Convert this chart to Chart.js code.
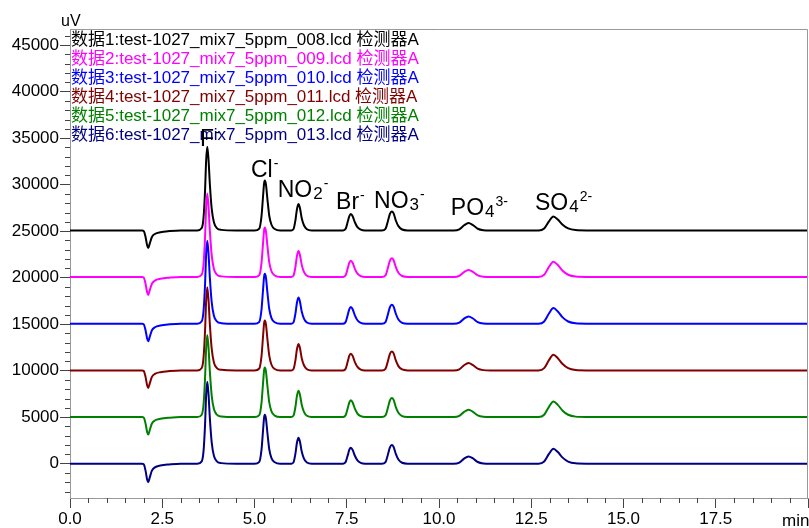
<!DOCTYPE html>
<html>
<head>
<meta charset="utf-8">
<script src="https://cdn.jsdelivr.net/npm/chart.js@4.4.0/dist/chart.umd.min.js"></script>
<style>
html, body { margin: 0; padding: 0; background: #fff; }
#wrap { width: 809px; height: 528px; }
</style>
</head>
<body>
<div id="wrap"><canvas id="chart" width="809" height="528"></canvas></div>
<script>
// Retention time samples (min), shared by all six runs
const times = [
  0.0,
  1.95, 2.00, 2.05, 2.09, 2.12, 2.16, 2.22, 2.30, 2.45, 2.70, 3.00,
  3.45, 3.57, 3.62, 3.66, 3.69, 3.72, 3.755, 3.79, 3.84, 3.90, 3.98, 4.10, 4.50,
  5.00, 5.13, 5.19, 5.23, 5.26, 5.28, 5.31, 5.35, 5.40, 5.46, 5.55, 5.70,
  6.00, 6.06, 6.11, 6.15, 6.19, 6.23, 6.28, 6.34, 6.42, 6.55,
  7.40, 7.47, 7.53, 7.57, 7.61, 7.66, 7.72, 7.79, 7.88, 8.00,
  8.45, 8.55, 8.62, 8.67, 8.72, 8.77, 8.83, 8.90, 9.00, 9.15,
  10.40, 10.55, 10.68, 10.80, 10.92, 11.05, 11.20, 11.40,
  12.70, 12.85, 12.98, 13.10, 13.22, 13.35, 13.50, 13.70, 14.00,
  20.0
];

// Detector signal (uV) of each run, before the display offset
const run008 = [
  0,
  0, -70, -750, -1600, -1890, -1420, -700, -380, -190, -70, 0,
  0, 255, 1430, 4290, 7550, 9000, 7550, 5000, 2350, 870, 255, 60, 0,
  0, 205, 1530, 3570, 5050, 5360, 4950, 3370, 1580, 610, 150, 0,
  0, 170, 1110, 2270, 2830, 2430, 1310, 555, 130, 0,
  0, 175, 985, 1550, 1760, 1530, 880, 360, 80, 0,
  0, 175, 1070, 1785, 2040, 1835, 1070, 460, 100, 0,
  0, 120, 555, 790, 565, 180, 30, 0,
  0, 215, 985, 1500, 1170, 610, 215, 40, 0,
  0
];
const run009 = [
  0,
  0, -75, -780, -1650, -1930, -1450, -730, -390, -195, -75, 0,
  0, 255, 1420, 4270, 7520, 8970, 7520, 4980, 2340, 860, 255, 60, 0,
  0, 200, 1520, 3550, 5020, 5320, 4910, 3340, 1570, 610, 150, 0,
  0, 170, 1095, 2240, 2790, 2390, 1295, 550, 130, 0,
  0, 175, 980, 1545, 1750, 1520, 875, 360, 80, 0,
  0, 170, 1050, 1750, 2000, 1800, 1050, 450, 100, 0,
  0, 115, 530, 750, 540, 175, 30, 0,
  0, 235, 1075, 1640, 1280, 665, 235, 40, 0,
  0
];
const run010 = [
  0,
  0, -70, -750, -1600, -1890, -1420, -700, -380, -190, -70, 0,
  0, 255, 1420, 4250, 7490, 8930, 7490, 4960, 2330, 860, 255, 60, 0,
  0, 205, 1530, 3570, 5050, 5360, 4950, 3370, 1580, 610, 150, 0,
  0, 170, 1105, 2260, 2820, 2420, 1305, 555, 130, 0,
  0, 180, 1000, 1580, 1790, 1560, 895, 370, 85, 0,
  0, 175, 1070, 1785, 2040, 1835, 1070, 460, 100, 0,
  0, 120, 550, 780, 560, 180, 30, 0,
  0, 240, 1100, 1680, 1310, 680, 240, 40, 0,
  0
];
const run011 = [
  0,
  0, -70, -750, -1600, -1890, -1420, -700, -380, -190, -70, 0,
  0, 255, 1420, 4260, 7510, 8950, 7510, 4970, 2335, 860, 255, 60, 0,
  0, 205, 1530, 3570, 5050, 5360, 4950, 3370, 1580, 610, 150, 0,
  0, 170, 1110, 2270, 2830, 2430, 1310, 555, 130, 0,
  0, 180, 1000, 1580, 1790, 1560, 895, 370, 85, 0,
  0, 175, 1070, 1785, 2040, 1835, 1070, 460, 100, 0,
  0, 120, 555, 790, 565, 180, 30, 0,
  0, 240, 1100, 1680, 1310, 680, 240, 40, 0,
  0
];
const run012 = [
  0,
  0, -70, -750, -1600, -1890, -1420, -700, -380, -190, -70, 0,
  0, 250, 1400, 4200, 7400, 8820, 7400, 4900, 2300, 850, 250, 60, 0,
  0, 200, 1520, 3550, 5020, 5320, 4910, 3340, 1570, 610, 150, 0,
  0, 170, 1110, 2270, 2830, 2430, 1310, 555, 130, 0,
  0, 180, 1000, 1580, 1790, 1560, 895, 370, 85, 0,
  0, 175, 1070, 1785, 2040, 1835, 1070, 460, 100, 0,
  0, 120, 550, 780, 560, 180, 30, 0,
  0, 240, 1095, 1670, 1305, 680, 240, 40, 0,
  0
];
const run013 = [
  0,
  0, -80, -800, -1700, -2000, -1500, -750, -400, -200, -80, 0,
  0, 250, 1400, 4200, 7400, 8820, 7400, 4900, 2300, 850, 250, 60, 0,
  0, 200, 1500, 3500, 4950, 5250, 4850, 3300, 1550, 600, 150, 0,
  0, 170, 1100, 2250, 2800, 2400, 1300, 550, 130, 0,
  0, 170, 950, 1500, 1700, 1480, 850, 350, 80, 0,
  0, 170, 1050, 1750, 2000, 1800, 1050, 450, 100, 0,
  0, 120, 550, 780, 560, 180, 30, 0,
  0, 230, 1050, 1600, 1250, 650, 230, 40, 0,
  0
];

// Display offset of each trace (uV)
const offsets = [25080, 20080, 15050, 10030, 5020, 0];
const legendNames = [
  '数据1:test-1027_mix7_5ppm_008.lcd 检测器A',
  '数据2:test-1027_mix7_5ppm_009.lcd 检测器A',
  '数据3:test-1027_mix7_5ppm_010.lcd 检测器A',
  '数据4:test-1027_mix7_5ppm_011.lcd 检测器A',
  '数据5:test-1027_mix7_5ppm_012.lcd 检测器A',
  '数据6:test-1027_mix7_5ppm_013.lcd 检测器A'
];
const colors = ['#000000', '#ff00ff', '#0000ff', '#800000', '#008000', '#000080'];

const xTicks = [0, 2.5, 5, 7.5, 10, 12.5, 15, 17.5, 20];
const yTicks = [0, 5000, 10000, 15000, 20000, 25000, 30000, 35000, 40000, 45000];

// Peak names, anchored in data units (min, uV)
const peakLabels = [
  { name: 'F',  sub: '',  sup: '-',  t: 3.52,  v: 34185 },
  { name: 'Cl', sub: '',  sup: '-',  t: 4.905, v: 30850 },
  { name: 'NO', sub: '2', sup: '-',  t: 5.63,  v: 28700 },
  { name: 'Br', sub: '',  sup: '-',  t: 7.21,  v: 27410 },
  { name: 'NO', sub: '3', sup: '-',  t: 8.24,  v: 27520 },
  { name: 'PO', sub: '4', sup: '3-', t: 10.32, v: 26690 },
  { name: 'SO', sub: '4', sup: '2-', t: 12.60, v: 27300 }
];

const FONT = '"Liberation Sans", Arial, "Noto Sans CJK SC", sans-serif';
const runs = [run008, run009, run010, run011, run012, run013];

const datasets = runs.map((r, i) => ({
  label: legendNames[i],
  data: r.map((v, k) => ({ x: times[k], y: v + offsets[i] })),
  borderColor: colors[i],
  borderWidth: 2,
  pointRadius: 0,
  fill: false,
  cubicInterpolationMode: 'monotone',
  order: i === 5 ? 0 : 6 - i
}));

// extra drawing: frame, minor ticks, legend text, peak names, axis units
const decorations = {
  id: 'decorations',
  afterDraw(chart) {
    const ctx = chart.ctx;
    const a = chart.chartArea;
    const xs = chart.scales.x, ys = chart.scales.y;
    ctx.save();

    // top / right frame
    ctx.strokeStyle = '#999';
    ctx.lineWidth = 1;
    ctx.beginPath();
    ctx.moveTo(a.left, a.top + 0.5);
    ctx.lineTo(a.right - 0.5, a.top + 0.5);
    ctx.lineTo(a.right - 0.5, a.bottom);
    ctx.stroke();

    // minor ticks
    ctx.strokeStyle = '#444';
    ctx.beginPath();
    for (let t = 0.5; t < 20; t += 0.5) {
      if (Math.abs(t / 2.5 - Math.round(t / 2.5)) < 1e-6) continue;
      const px = Math.round(xs.getPixelForValue(t)) + 0.5;
      ctx.moveTo(px, a.bottom);
      ctx.lineTo(px, a.bottom + 5);
    }
    for (let v = -3000; v <= 46000; v += 1000) {
      if (v % 5000 === 0) continue;
      const py = Math.round(ys.getPixelForValue(v)) + 0.5;
      ctx.moveTo(a.left - 5, py);
      ctx.lineTo(a.left, py);
    }
    ctx.stroke();

    // legend
    ctx.font = '17px ' + FONT;
    ctx.textAlign = 'left';
    ctx.textBaseline = 'alphabetic';
    legendNames.forEach((n, i) => {
      ctx.fillStyle = colors[i];
      ctx.fillText(n, a.left + 1, 45 + i * 19);
    });

    // peak names
    ctx.fillStyle = '#000';
    peakLabels.forEach(p => {
      let x = xs.getPixelForValue(p.t);
      const y = ys.getPixelForValue(p.v);
      ctx.font = '23px ' + FONT;
      ctx.fillText(p.name, x, y);
      x += ctx.measureText(p.name).width;
      if (p.sub) {
        ctx.font = '17px ' + FONT;
        ctx.fillText(p.sub, x + 1, y + 2);
        x += ctx.measureText(p.sub).width + 1;
      }
      ctx.font = '14px ' + FONT;
      ctx.fillText(p.sup, x + 1, y - 9);
    });

    // units
    ctx.font = '16px ' + FONT;
    ctx.fillText('uV', 61, 26);
    ctx.font = '17px ' + FONT;
    ctx.fillText('min', a.right - 26, 526);
    ctx.restore();
  }
};

new Chart(document.getElementById('chart'), {
  type: 'line',
  data: { datasets: datasets },
  options: {
    responsive: false,
    devicePixelRatio: 1,
    animation: false,
    layout: { padding: { top: 29, right: 1, left: 0, bottom: 0 } },
    plugins: { legend: { display: false }, tooltip: { enabled: false } },
    scales: {
      x: {
        type: 'linear',
        min: 0,
        max: 20,
        afterBuildTicks: s => { s.ticks = xTicks.map(v => ({ value: v })); },
        afterFit: s => { s.height = 30; },
        ticks: {
          autoSkip: false,
          maxRotation: 0,
          padding: 1,
          color: '#000',
          font: { size: 17, family: FONT },
          callback: v => (v === 20 ? '' : v.toFixed(1))
        },
        grid: { drawOnChartArea: false, drawTicks: true, tickLength: 10, tickColor: '#444' },
        border: { color: '#999' }
      },
      y: {
        type: 'linear',
        min: -3690,
        max: 46740,
        afterBuildTicks: s => { s.ticks = yTicks.map(v => ({ value: v })); },
        afterFit: s => { s.width = 70; },
        ticks: {
          padding: 1,
          color: '#000',
          font: { size: 17, family: FONT },
          callback: v => String(v)
        },
        grid: { drawOnChartArea: false, drawTicks: true, tickLength: 10, tickColor: '#444' },
        border: { color: '#999' }
      }
    }
  },
  plugins: [decorations]
});
</script>
</body>
</html>
